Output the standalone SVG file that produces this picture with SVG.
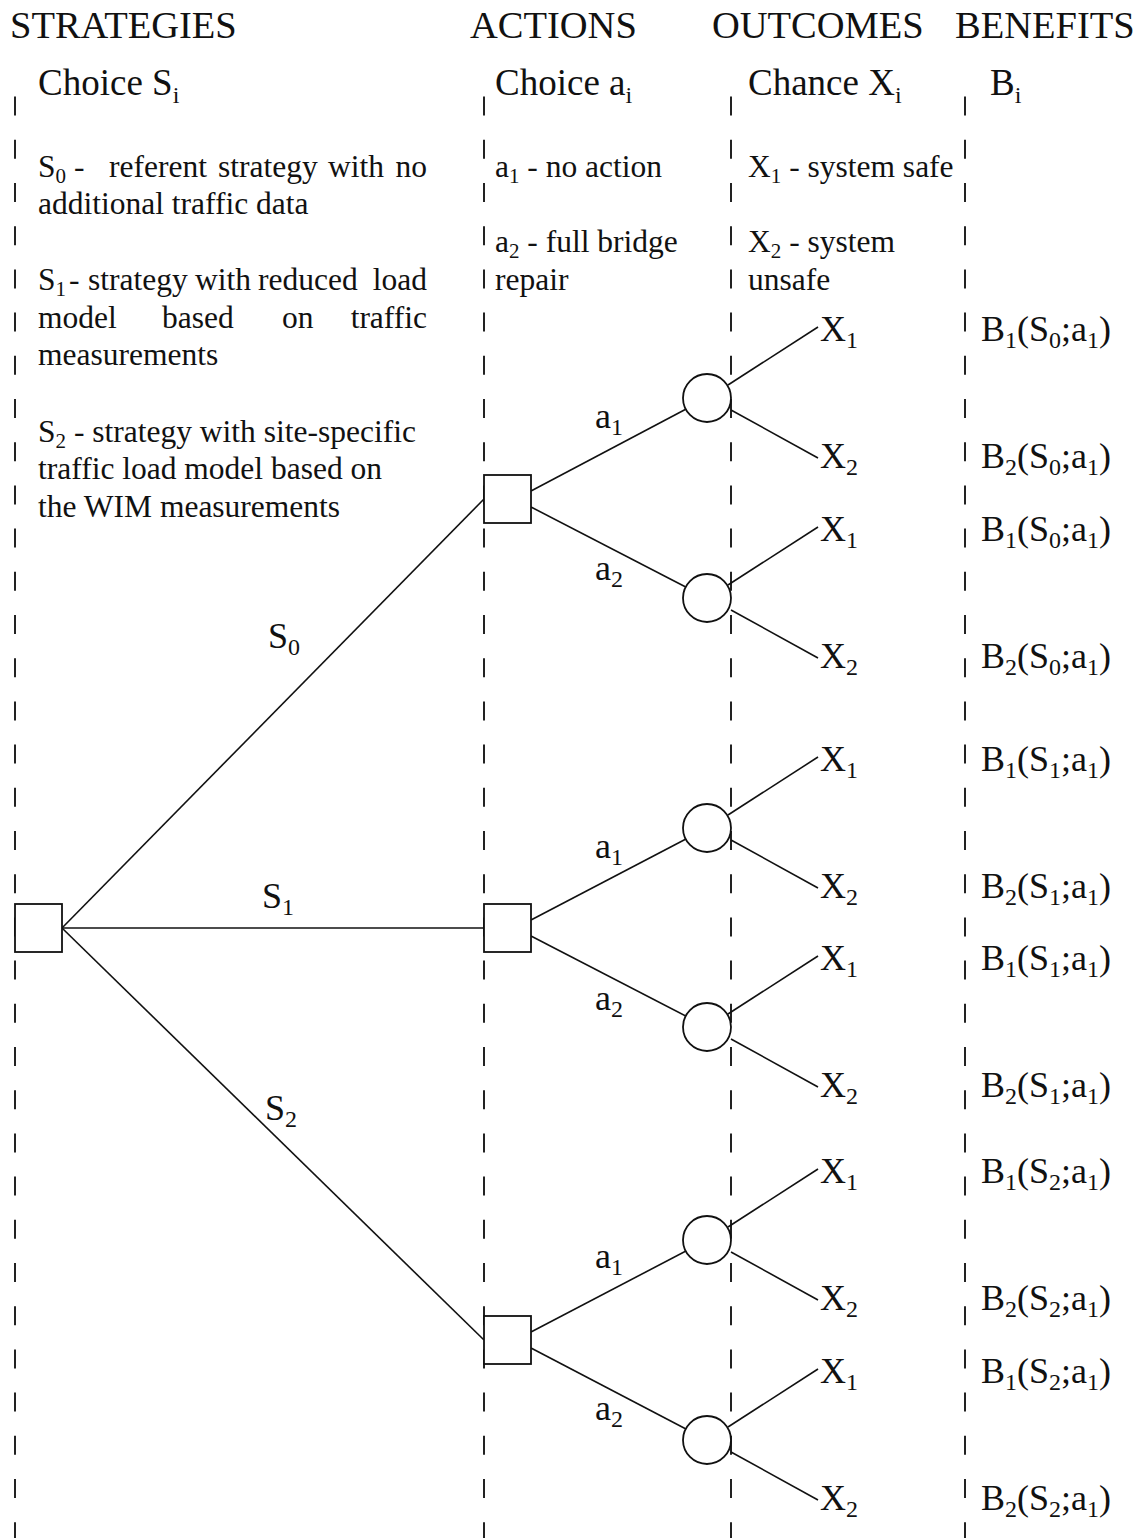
<svg xmlns="http://www.w3.org/2000/svg" width="1139" height="1538" viewBox="0 0 1139 1538">
<style>
text{font-family:"Liberation Serif","Times New Roman",serif;fill:#111}
.h{font-size:38.5px}
.c{font-size:37px}
.b{font-size:31.5px}
.t{font-size:36px}
.s{font-size:24px}
.sb{font-size:21px}
.e{text-anchor:end}
.dash{stroke:#222;stroke-width:2;stroke-dasharray:19 24.2;stroke-dashoffset:34.6;fill:none}
.ln{stroke:#111;stroke-width:1.6;fill:none}
.nd{stroke:#111;stroke-width:1.8;fill:#fff}
</style>
<rect width="1139" height="1538" fill="#fff"/>
<g id="columns">
<line class="dash" x1="15" y1="88" x2="15" y2="1538"/>
<line class="dash" x1="484" y1="88" x2="484" y2="1538"/>
<line class="dash" x1="731" y1="88" x2="731" y2="1538"/>
<line class="dash" x1="965" y1="88" x2="965" y2="1538"/>
</g>
<g id="headers">
<text class="h" x="10" y="38">STRATEGIES</text>
<text class="h" x="470" y="38">ACTIONS</text>
<text class="h" x="712" y="38">OUTCOMES</text>
<text class="h" x="955" y="38">BENEFITS</text>
<text class="c" x="38" y="95">Choice S<tspan class="s" dy="8">i</tspan></text>
<text class="c" x="495" y="95">Choice a<tspan class="s" dy="8">i</tspan></text>
<text class="c" x="748" y="95">Chance X<tspan class="s" dy="8">i</tspan></text>
<text class="c" x="990" y="95">B<tspan class="s" dy="8">i</tspan></text>
</g>
<g id="legend">
<text class="b" y="177"><tspan x="38">S</tspan><tspan class="sb" dy="6">0</tspan><tspan dy="-6"> -</tspan><tspan x="109">referent</tspan><tspan x="218">strategy</tspan><tspan x="328">with</tspan></text>
<text class="b e" x="427" y="177">no</text>
<text class="b" x="38" y="214">additional traffic data</text>
<text class="b" y="290"><tspan x="38">S</tspan><tspan class="sb" dy="6">1</tspan><tspan dy="-6" x="69">-</tspan><tspan x="88">strategy</tspan><tspan x="195">with</tspan><tspan x="258">reduced</tspan></text>
<text class="b e" x="427" y="290">load</text>
<text class="b" y="328"><tspan x="38">model</tspan><tspan x="162">based</tspan><tspan x="282">on</tspan></text>
<text class="b e" x="427" y="328">traffic</text>
<text class="b" x="38" y="365">measurements</text>
<text class="b" x="38" y="442">S<tspan class="sb" dy="6">2</tspan><tspan dy="-6"> - strategy with site-specific</tspan></text>
<text class="b" x="38" y="479">traffic load model based on</text>
<text class="b" x="38" y="517">the WIM measurements</text>
<text class="b" x="495" y="177">a<tspan class="sb" dy="6">1</tspan><tspan dy="-6"> - no action</tspan></text>
<text class="b" x="495" y="252">a<tspan class="sb" dy="6">2</tspan><tspan dy="-6"> - full bridge</tspan></text>
<text class="b" x="495" y="290">repair</text>
<text class="b" x="748" y="177">X<tspan class="sb" dy="6">1</tspan><tspan dy="-6"> - system safe</tspan></text>
<text class="b" x="748" y="252">X<tspan class="sb" dy="6">2</tspan><tspan dy="-6"> - system</tspan></text>
<text class="b" x="748" y="290">unsafe</text>
</g>
<g id="connectors">
<line class="ln" x1="62" y1="928" x2="484" y2="499"/>
<line class="ln" x1="62" y1="928" x2="484" y2="928"/>
<line class="ln" x1="62" y1="928" x2="484" y2="1340"/>
<line class="ln" x1="531" y1="491" x2="707" y2="398"/>
<line class="ln" x1="531" y1="507" x2="707" y2="598"/>
<line class="ln" x1="531" y1="920" x2="707" y2="828"/>
<line class="ln" x1="531" y1="936" x2="707" y2="1027"/>
<line class="ln" x1="531" y1="1332" x2="707" y2="1240"/>
<line class="ln" x1="531" y1="1348" x2="707" y2="1440"/>
<line class="ln" x1="728" y1="385" x2="818" y2="327"/><line class="ln" x1="731" y1="410" x2="818" y2="458"/>
<line class="ln" x1="728" y1="585" x2="818" y2="527"/><line class="ln" x1="731" y1="610" x2="818" y2="658"/>
<line class="ln" x1="728" y1="815" x2="818" y2="757"/><line class="ln" x1="731" y1="840" x2="818" y2="888"/>
<line class="ln" x1="728" y1="1014" x2="818" y2="956"/><line class="ln" x1="731" y1="1039" x2="818" y2="1087"/>
<line class="ln" x1="728" y1="1227" x2="818" y2="1169"/><line class="ln" x1="731" y1="1252" x2="818" y2="1300"/>
<line class="ln" x1="728" y1="1427" x2="818" y2="1369"/><line class="ln" x1="731" y1="1452" x2="818" y2="1500"/>
</g>
<g id="branch-labels">
<text class="t" x="268" y="648">S<tspan class="s" dy="7">0</tspan></text>
<text class="t" x="262" y="908">S<tspan class="s" dy="7">1</tspan></text>
<text class="t" x="265" y="1120">S<tspan class="s" dy="7">2</tspan></text>
<text class="t" x="595" y="428">a<tspan class="s" dy="7">1</tspan></text>
<text class="t" x="595" y="580">a<tspan class="s" dy="7">2</tspan></text>
<text class="t" x="595" y="858">a<tspan class="s" dy="7">1</tspan></text>
<text class="t" x="595" y="1010">a<tspan class="s" dy="7">2</tspan></text>
<text class="t" x="595" y="1268">a<tspan class="s" dy="7">1</tspan></text>
<text class="t" x="595" y="1420">a<tspan class="s" dy="7">2</tspan></text>
</g>
<g id="root-decision"><rect class="nd" x="15" y="904" width="47" height="48"/></g>
<g id="action-S0"><rect class="nd" x="484" y="475" width="47" height="48"/></g>
<g id="action-S1"><rect class="nd" x="484" y="904" width="47" height="48"/></g>
<g id="action-S2"><rect class="nd" x="484" y="1316" width="47" height="48"/></g>
<g id="chance-S0-a1"><circle class="nd" cx="707" cy="398" r="24"/></g>
<g id="chance-S0-a2"><circle class="nd" cx="707" cy="598" r="24"/></g>
<g id="chance-S1-a1"><circle class="nd" cx="707" cy="828" r="24"/></g>
<g id="chance-S1-a2"><circle class="nd" cx="707" cy="1027" r="24"/></g>
<g id="chance-S2-a1"><circle class="nd" cx="707" cy="1240" r="24"/></g>
<g id="chance-S2-a2"><circle class="nd" cx="707" cy="1440" r="24"/></g>
<g id="outcomes">
<text class="t" x="820" y="341">X<tspan class="s" dy="7">1</tspan></text>
<text class="t" x="820" y="468">X<tspan class="s" dy="7">2</tspan></text>
<text class="t" x="820" y="541">X<tspan class="s" dy="7">1</tspan></text>
<text class="t" x="820" y="668">X<tspan class="s" dy="7">2</tspan></text>
<text class="t" x="820" y="771">X<tspan class="s" dy="7">1</tspan></text>
<text class="t" x="820" y="898">X<tspan class="s" dy="7">2</tspan></text>
<text class="t" x="820" y="970">X<tspan class="s" dy="7">1</tspan></text>
<text class="t" x="820" y="1097">X<tspan class="s" dy="7">2</tspan></text>
<text class="t" x="820" y="1183">X<tspan class="s" dy="7">1</tspan></text>
<text class="t" x="820" y="1310">X<tspan class="s" dy="7">2</tspan></text>
<text class="t" x="820" y="1383">X<tspan class="s" dy="7">1</tspan></text>
<text class="t" x="820" y="1510">X<tspan class="s" dy="7">2</tspan></text>
</g>
<g id="benefits">
<text class="t" x="981" y="341">B<tspan class="s" dy="7">1</tspan><tspan dy="-7">(S</tspan><tspan class="s" dy="7">0</tspan><tspan dy="-7">;a</tspan><tspan class="s" dy="7">1</tspan><tspan dy="-7">)</tspan></text>
<text class="t" x="981" y="468">B<tspan class="s" dy="7">2</tspan><tspan dy="-7">(S</tspan><tspan class="s" dy="7">0</tspan><tspan dy="-7">;a</tspan><tspan class="s" dy="7">1</tspan><tspan dy="-7">)</tspan></text>
<text class="t" x="981" y="541">B<tspan class="s" dy="7">1</tspan><tspan dy="-7">(S</tspan><tspan class="s" dy="7">0</tspan><tspan dy="-7">;a</tspan><tspan class="s" dy="7">1</tspan><tspan dy="-7">)</tspan></text>
<text class="t" x="981" y="668">B<tspan class="s" dy="7">2</tspan><tspan dy="-7">(S</tspan><tspan class="s" dy="7">0</tspan><tspan dy="-7">;a</tspan><tspan class="s" dy="7">1</tspan><tspan dy="-7">)</tspan></text>
<text class="t" x="981" y="771">B<tspan class="s" dy="7">1</tspan><tspan dy="-7">(S</tspan><tspan class="s" dy="7">1</tspan><tspan dy="-7">;a</tspan><tspan class="s" dy="7">1</tspan><tspan dy="-7">)</tspan></text>
<text class="t" x="981" y="898">B<tspan class="s" dy="7">2</tspan><tspan dy="-7">(S</tspan><tspan class="s" dy="7">1</tspan><tspan dy="-7">;a</tspan><tspan class="s" dy="7">1</tspan><tspan dy="-7">)</tspan></text>
<text class="t" x="981" y="970">B<tspan class="s" dy="7">1</tspan><tspan dy="-7">(S</tspan><tspan class="s" dy="7">1</tspan><tspan dy="-7">;a</tspan><tspan class="s" dy="7">1</tspan><tspan dy="-7">)</tspan></text>
<text class="t" x="981" y="1097">B<tspan class="s" dy="7">2</tspan><tspan dy="-7">(S</tspan><tspan class="s" dy="7">1</tspan><tspan dy="-7">;a</tspan><tspan class="s" dy="7">1</tspan><tspan dy="-7">)</tspan></text>
<text class="t" x="981" y="1183">B<tspan class="s" dy="7">1</tspan><tspan dy="-7">(S</tspan><tspan class="s" dy="7">2</tspan><tspan dy="-7">;a</tspan><tspan class="s" dy="7">1</tspan><tspan dy="-7">)</tspan></text>
<text class="t" x="981" y="1310">B<tspan class="s" dy="7">2</tspan><tspan dy="-7">(S</tspan><tspan class="s" dy="7">2</tspan><tspan dy="-7">;a</tspan><tspan class="s" dy="7">1</tspan><tspan dy="-7">)</tspan></text>
<text class="t" x="981" y="1383">B<tspan class="s" dy="7">1</tspan><tspan dy="-7">(S</tspan><tspan class="s" dy="7">2</tspan><tspan dy="-7">;a</tspan><tspan class="s" dy="7">1</tspan><tspan dy="-7">)</tspan></text>
<text class="t" x="981" y="1510">B<tspan class="s" dy="7">2</tspan><tspan dy="-7">(S</tspan><tspan class="s" dy="7">2</tspan><tspan dy="-7">;a</tspan><tspan class="s" dy="7">1</tspan><tspan dy="-7">)</tspan></text>
</g>
</svg>
